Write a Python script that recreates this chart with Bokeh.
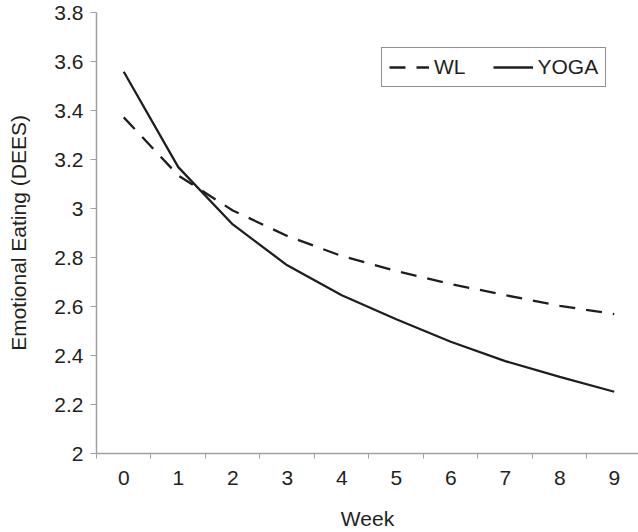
from bokeh.plotting import figure
from bokeh.models import (Range1d, FixedTicker, NumeralTickFormatter, Legend, LegendItem,
                          ColumnDataSource)
from bokeh.embed import file_html
from bokeh.resources import INLINE

weeks = [0, 1, 2, 3, 4, 5, 6, 7, 8, 9]
wl = [3.372, 3.135, 2.992, 2.888, 2.806, 2.745, 2.692, 2.646, 2.603, 2.569]
yoga = [3.558, 3.169, 2.935, 2.768, 2.646, 2.548, 2.456, 2.377, 2.313, 2.252]
y_ticks = [2.0, 2.2, 2.4, 2.6, 2.8, 3.0, 3.2, 3.4, 3.6, 3.8]
x_tick_marks = [w - 0.5 for w in weeks] + [9.5]

FONT = "Liberation Sans"
TXT = "#231f20"
AX = "#a0a0a0"
LINE = "#1e1e1e"
FS = "21px"

p = figure(width=638, height=532, output_backend="svg", toolbar_location=None,
           x_range=Range1d(-0.5, 9.445), y_range=Range1d(2.0, 3.8),
           min_border_left=96, min_border_right=0, min_border_top=12, min_border_bottom=78,
           background_fill_color="white", border_fill_color="white")
p.outline_line_color = None
p.xgrid.visible = False
p.ygrid.visible = False

src = ColumnDataSource(dict(week=weeks, wl=wl, yoga=yoga))
r_wl = p.line("week", "wl", source=src, line_color=LINE, line_width=2.3, line_dash="16 11")
r_yoga = p.line("week", "yoga", source=src, line_color=LINE, line_width=2.3)

# x axis
xa = p.xaxis[0]
xa.ticker = FixedTicker(ticks=weeks, minor_ticks=x_tick_marks)
xa.major_tick_out = 0
xa.major_tick_in = 0
xa.minor_tick_out = 5
xa.minor_tick_in = 0
xa.minor_tick_line_color = AX
xa.axis_line_color = AX
xa.axis_line_width = 1.5
xa.major_label_standoff = 12
xa.major_label_text_font = FONT
xa.major_label_text_font_size = FS
xa.major_label_text_color = TXT
xa.axis_label = "Week"
xa.axis_label_text_font = FONT
xa.axis_label_text_font_size = FS
xa.axis_label_text_font_style = "normal"
xa.axis_label_text_color = TXT
xa.axis_label_standoff = 19

# y axis
ya = p.yaxis[0]
ya.ticker = FixedTicker(ticks=y_ticks, minor_ticks=[])
ya.formatter = NumeralTickFormatter(format="0.[0]")
ya.major_tick_out = 6
ya.major_tick_in = 0
ya.major_tick_line_color = AX
ya.axis_line_color = AX
ya.axis_line_width = 1.5
ya.major_label_standoff = 7
ya.major_label_text_font = FONT
ya.major_label_text_font_size = FS
ya.major_label_text_color = TXT
ya.axis_label = "Emotional Eating (DEES)"
ya.axis_label_text_font = FONT
ya.axis_label_text_font_size = FS
ya.axis_label_text_font_style = "normal"
ya.axis_label_text_color = TXT
ya.axis_label_standoff = 21

legend = Legend(items=[LegendItem(label="WL", renderers=[r_wl]),
                       LegendItem(label="YOGA", renderers=[r_yoga])],
                orientation="horizontal", location=(285, 366),
                border_line_color="#222222", border_line_width=1.2,
                padding=7, margin=0, spacing=27, glyph_width=40, glyph_height=16,
                label_standoff=5, label_text_font=FONT, label_text_font_size=FS,
                label_text_color=TXT, background_fill_color="white",
                background_fill_alpha=1.0)
p.add_layout(legend)

open("out.html", "w").write(file_html(p, INLINE))
